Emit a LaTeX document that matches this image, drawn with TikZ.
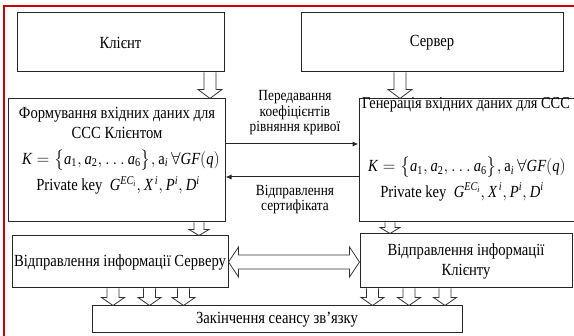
\documentclass[tikz,border=0pt]{standalone}
\usepackage{amsmath}
\usepackage{fontspec}
\setmainfont{Liberation Serif}[FakeStretch=0.86]
\newfontfamily\tnr{Liberation Serif}[FakeStretch=0.86]
\usetikzlibrary{arrows.meta,calc}

% italic letters and upright digits in the text face
\newcommand\vi[1]{\textit{#1}}
\newcommand\dg[1]{\text{#1}}
\newcommand\keyset{$\vi{K}=\bigl\{\vi{a}_{\dg1},\vi{a}_{\dg2},\ldots\vi{a}_{\dg6}\bigr\},\text{a}_{\vi{i}}\,\forall\vi{GF}(\vi{q})$}
\newcommand\privkey{Private key\ \ $\vi{G}^{\vi{EC}_{\vi{i}}},\vi{X}^{\,\vi{i}},\vi{P}^{\vi{i}},\vi{D}^{\vi{i}}$}

\tikzset{
  box/.style={draw=black!85, line width=1pt, fill=white, inner sep=0pt},
  txt/.style={inner sep=0pt, align=center, font=\tnr\fontsize{17}{20}\selectfont},
  lbl/.style={inner sep=0pt, align=center, font=\tnr\fontsize{15.5}{15.5}\selectfont},
  blk/.style={draw=black!80, line width=0.8pt, fill=white, line join=miter},
  thinarrow/.style={draw=black!85, line width=1pt, -{Latex[length=6pt,width=5pt]}},
  frame/.style={draw=red!80!black, line width=1.5pt}
}

% hollow arrow pointing down from node #2 to node #3 at abscissa #1;
% #4 shaft half width, #5 head half width, #6 head length
\newcommand\blockdown[6]{%
  \draw[blk] let \p1=(#2.south), \p2=(#3.north) in
    (#1-#4,\y1) -- (#1-#4,\y2+#6) -- (#1-#5,\y2+#6) -- (#1,\y2)
    -- (#1+#5,\y2+#6) -- (#1+#4,\y2+#6) -- (#1+#4,\y1);}

\begin{document}
\begin{tikzpicture}[x=1pt,y=1pt]
\useasboundingbox (0,0) rectangle (574,336);
\clip (0,0) rectangle (574,336);

% blocks
\node[box, minimum width=207pt, minimum height=59pt] (client) at (120.5,293.5) {};
\node[box, minimum width=262pt, minimum height=59pt] (server) at (432,293.5) {};
\node[box, minimum width=217pt, minimum height=123pt] (form) at (116.5,175.5) {};
\node[box, minimum width=217pt, minimum height=123pt] (gen) at (467.5,175.5) {};
\node[box, minimum width=216pt, minimum height=52pt] (tosrv) at (120,74) {};
\node[box, minimum width=212pt, minimum height=54pt] (tocli) at (466,75) {};
\node[box, minimum width=370pt, minimum height=27pt] (endb) at (277,16.5) {};

% block texts
\node[txt] (tclient) at (client) {Клієнт};
\node[txt] (tserver) at (server) {Сервер};
\node[txt] (tform) at (117,213.5) {Формування вхідних даних для\\ССС Клієнтом};
\node[txt] (fk) at (121,176) {\keyset};
\node[txt] (fp) at (118,150.5) {\privkey};
\node[txt, anchor=west, font=\tnr\fontsize{16.7}{20}\selectfont] (tgen) at (362,231) {Генерація вхідних даних для ССС};
\node[txt] (gk) at (467,168.5) {\keyset};
\node[txt] (gp) at (462,144) {\privkey};
\node[txt] (ttosrv) at (tosrv) {Відправлення інформації Серверу};
\node[txt] (ttocli) at (tocli) {Відправлення інформації\\Клієнту};
\node[txt] (tend) at (endb) {Закінчення сеансу зв’язку};

% data exchange between the two parties
\draw[thinarrow] ([yshift=16.5pt]form.east) -- ([yshift=16.5pt]form.east -| gen.west);
\draw[thinarrow] ([yshift=-16.5pt]gen.west) -- ([yshift=-16.5pt]gen.west -| form.east);
\node[lbl] (l1) at (295,223) {Передавання\\коефіцієнтів\\рівняння кривої};
\node[lbl] (l2) at (295,136.5) {Відправлення\\сертифіката};

% hollow flow arrows
\blockdown{210}{client}{form}{6}{12}{9}
\blockdown{400}{server}{gen}{6}{12}{9}
\blockdown{199}{form}{tosrv}{5}{10}{6}
\blockdown{390}{gen}{tocli}{5}{10}{6}
\foreach \xx in {113,149.5,183.5}{\blockdown{\xx}{tosrv}{endb}{6}{11.5}{8}}
\foreach \xx in {372.5,409,445}{\blockdown{\xx}{tocli}{endb}{6}{11.5}{8}}

% two-way hollow arrow between the sending blocks
\draw[blk] let \p1=(tosrv.east), \p2=(tocli.west) in
  (\x1,74) -- (\x1+10,89) -- (\x1+10,81) -- (\x2-10,81) -- (\x2-10,89) -- (\x2,74)
  -- (\x2-10,59) -- (\x2-10,67) -- (\x1+10,67) -- (\x1+10,59) -- cycle;

% outer frame
\draw[frame] (4,0) -- (4,330) -- (574,330);
\end{tikzpicture}
\end{document}
